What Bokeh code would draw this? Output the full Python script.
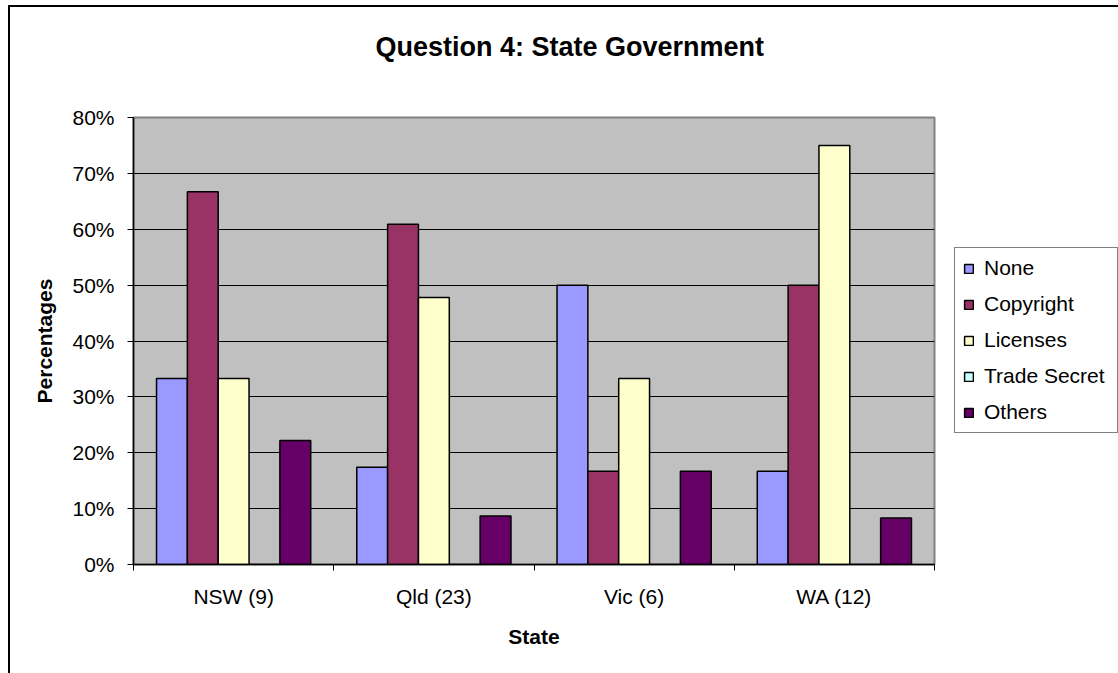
from bokeh.plotting import figure
from bokeh.models import (FixedTicker, PrintfTickFormatter, Legend, LegendItem, Range1d, Title)
from bokeh.embed import file_html
from bokeh.resources import INLINE

# Survey results: share of respondents per protection type, by state
states = ["NSW (9)", "Qld (23)", "Vic (6)", "WA (12)"]
series = ["None", "Copyright", "Licenses", "Trade Secret", "Others"]
none_pct = [33.3, 17.4, 50.0, 16.7]
copyright_pct = [66.7, 60.9, 16.7, 50.0]
licenses_pct = [33.3, 47.8, 33.3, 75.0]
trade_secret_pct = [0.0, 0.0, 0.0, 0.0]
others_pct = [22.2, 8.7, 16.7, 8.3]
colors = ["#9999FF", "#993366", "#FFFFCC", "#CCFFFF", "#660066"]
y_ticks = [0, 10, 20, 30, 40, 50, 60, 70, 80]

FONT = "Liberation Sans"
W, H = 1118, 673

p = figure(width=W, height=H, frame_width=801, frame_height=447,
           x_range=Range1d(0, len(states)), y_range=Range1d(0, 80),
           output_backend="svg", toolbar_location=None, title_location=None,
           min_border_left=133, min_border_right=184,
           min_border_top=117, min_border_bottom=109,
           background_fill_color="#C0C0C0",
           border_fill_color=None, border_fill_alpha=0)

# White page with a thin dark frame line on the left and top edges
p.styles = {
    "background": "linear-gradient(#000, #000) 8px 5px / 2px 668px no-repeat, "
                  "linear-gradient(#000, #000) 8px 5px / 1110px 2px no-repeat, #ffffff"
}

p.outline_line_color = "#808080"
p.outline_line_width = 2

# Title, lifted clear of the plot area by an empty spacer row beneath it
spacer = Title(text=" ", text_font_size="2px", standoff=52)
p.add_layout(spacer, "above")
main_title = Title(text="Question 4: State Government", align="left", offset=242,
                   vertical_align="bottom", standoff=0,
                   text_font=FONT, text_font_size="27px", text_font_style="bold",
                   text_color="black")
p.add_layout(main_title, "above")

# Clustered bars: five series side by side inside each state slot
bw = 0.154
all_values = [none_pct, copyright_pct, licenses_pct, trade_secret_pct, others_pct]
items = []
for k, (name, vals, col) in enumerate(zip(series, all_values, colors)):
    xs = [i + 0.5 + (k - 2) * bw for i in range(len(states))]
    r = p.vbar(x=xs, top=vals, width=bw, bottom=0, fill_color=col,
               line_color="black", line_width=1.5)
    items.append(LegendItem(label=name, renderers=[r]))

# Y axis
p.yaxis.ticker = FixedTicker(ticks=y_ticks)
p.yaxis.formatter = PrintfTickFormatter(format="%d%%")
p.yaxis.major_tick_out = 6
p.yaxis.major_tick_in = 0
p.yaxis.minor_tick_out = 0
p.yaxis.minor_tick_in = 0
p.yaxis.major_tick_line_color = "black"
p.yaxis.axis_line_color = "black"
p.yaxis.axis_line_width = 1.5
p.yaxis.major_label_standoff = 13
p.yaxis.major_label_text_font = FONT
p.yaxis.major_label_text_font_size = "21px"
p.yaxis.major_label_text_color = "black"
p.yaxis.axis_label = "Percentages"
p.yaxis.axis_label_text_font = FONT
p.yaxis.axis_label_text_font_size = "21px"
p.yaxis.axis_label_text_font_style = "bold"
p.yaxis.axis_label_text_color = "black"
p.yaxis.axis_label_standoff = 13

# X axis: labels centred on each state, tick marks between states
p.xaxis.ticker = FixedTicker(ticks=[i + 0.5 for i in range(len(states))],
                             minor_ticks=list(range(len(states) + 1)))
p.xaxis.major_label_overrides = {i + 0.5: s for i, s in enumerate(states)}
p.xaxis.major_tick_out = 0
p.xaxis.major_tick_in = 0
p.xaxis.minor_tick_out = 6
p.xaxis.minor_tick_in = 0
p.xaxis.minor_tick_line_color = "black"
p.xaxis.axis_line_color = "black"
p.xaxis.axis_line_width = 1.5
p.xaxis.major_label_standoff = 14
p.xaxis.major_label_text_font = FONT
p.xaxis.major_label_text_font_size = "21px"
p.xaxis.major_label_text_color = "black"
p.xaxis.axis_label = "State"
p.xaxis.axis_label_text_font = FONT
p.xaxis.axis_label_text_font_size = "21px"
p.xaxis.axis_label_text_font_style = "bold"
p.xaxis.axis_label_text_color = "black"
p.xaxis.axis_label_standoff = 14

p.xgrid.visible = False
p.ygrid.ticker = FixedTicker(ticks=y_ticks)
p.ygrid.grid_line_color = "black"
p.ygrid.grid_line_width = 1

legend = Legend(items=items, location=(20, 131),
                border_line_color="black", border_line_width=1,
                background_fill_color="white", background_fill_alpha=1,
                label_text_font=FONT, label_text_font_size="21px",
                label_text_color="black",
                glyph_width=11, glyph_height=11, label_standoff=10,
                label_width=125,
                padding=8, spacing=12, label_height=24, margin=0)
p.add_layout(legend, "right")

open("out.html", "w").write(file_html(p, INLINE))
